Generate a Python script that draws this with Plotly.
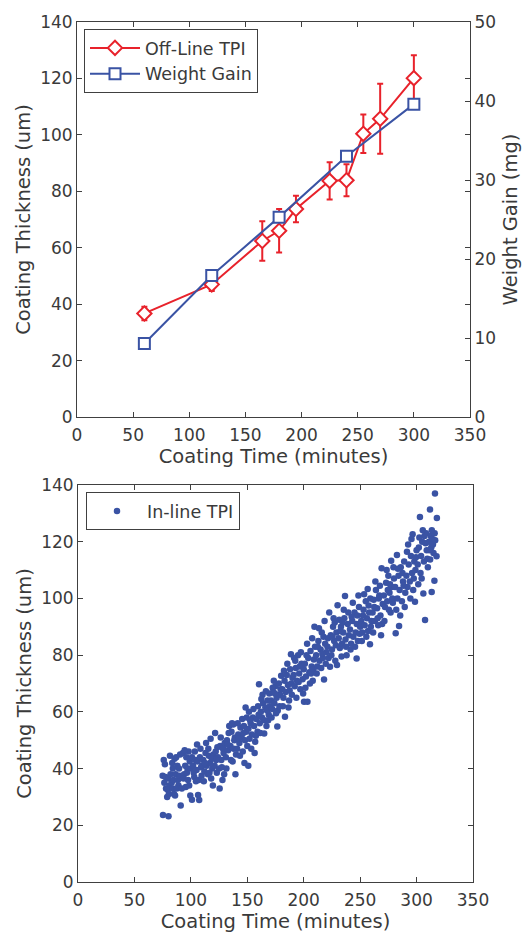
import plotly.graph_objects as go

# ---------------- Top chart data ----------------
offline_time = [60, 120, 165, 180, 195, 225, 240, 255, 270, 300]
offline_thick = [36.7, 47.0, 62.4, 66.0, 73.7, 83.7, 83.9, 100.4, 105.7, 120.1]
offline_err = [2.4, 2.3, 7.0, 7.7, 4.7, 6.6, 5.7, 6.8, 12.4, 8.1]

wg_time = [60, 120, 180, 240, 300]
wg_mg = [9.3, 17.9, 25.3, 33.0, 39.6]

# ---------------- Bottom chart data (In-line TPI) -------------
inline_pts = [
    (75.3,23.6),(80.2,23.2),(75,37.5),(76,43),(77,41.5),(76.5,35),(78,33),(79,30),(77.5,37),(80,36.5),(81,34),(79.5,32.5),(82,38),(81.5,44.5),(80.5,31),
    (83,35),(84,33),(85,31),(84.5,36),(86,30.5),(83.5,42),(85.5,43.5),(87,44),(88,41),(86.5,38),(89,34),(88.5,36),(90,37.5),(87.5,33),(89.5,40),(91,27),(90.5,45),(84,40),
    (92,33),(93,45.5),(94,38),(95,41),(96,44),(97,40),(93.5,36.5),(95.5,33.5),(98,46),(99,42.5),(96.5,38.5),(97.5,36),(100,40),(94.5,46.5),(98.5,34),(99.5,30.5),(101,29),
    (101,44),(102,41),(103,37),(104,43),(105,39.5),(106,42.5),(107,36),(108,44),(109,40.5),(102.5,38.5),(104.5,35.5),(106.4,30.7),(107.4,28.9),(108.5,47),(110,41),(103.5,46),(105.5,48.5),(109.5,37.5),
    (111,43),(112,39),(113,45.5),(114,41),(115,38),(116,44.5),(117,42),(118,36.5),(119,40),(120,45),(111.5,35.5),(113.5,49),(115.5,47),(117.5,50.5),(119.5,34),(116.5,38.5),(112.5,42),(118.5,43.5),
    (121,41),(122,46),(123,38.5),(124,44),(125,40),(126,48),(127,43),(128,36),(129,45.5),(130,49),(121.5,52.5),(123.5,47.5),(125.5,33),(127.5,40.5),(129.5,38),(122.5,43),(126.5,51),(128.5,47),
    (131,44),(132,50),(133,46.5),(134,55),(135,48),(136,53),(137,42.5),(138,47),(139,51),(140,45),(131.5,40),(133.5,52.5),(135.5,43),(137.5,55.5),(139.5,38),(132.5,48.5),(136.5,56),(138.5,50),
    (141,47),(142,52),(143,49),(144,54.5),(145,51),(146,46),(147,55),(148,50),(149,53),(150,48),(141.5,56),(143.5,44.5),(145.5,57.5),(147.5,42),(149.5,58),(142.5,50.5),(146.5,52.5),(148.5,61.5),(150.9,41),
    (151,54),(152,50.5),(153,56),(154,52),(155,58),(156,55),(157,49.5),(158,57.5),(159,53),(160,59),(151.5,60),(153.5,47),(155.5,61),(157.6,51.6),(159.5,62),(152.5,57),(156.5,45.5),(160.4,69.7),
    (161,56),(162,60),(163,58),(164,63),(165,57),(166,61.5),(167,55),(168,64),(169,59),(170,62),(161.5,52.5),(163.5,66),(165,52.4),(167.5,60.5),(169.5,66.5),(162.5,64.5),(166.5,67.3),(168.5,57),
    (171,64),(172,61),(173,67),(174,63),(175,69),(176,65),(177,60.5),(178,70),(179,66),(180,72.7),(171.5,58),(173.5,71),(175.5,59.5),(176.6,54.8),(178.5,62),(179.5,68),(172.5,68.5),(174.5,66.5),
    (181,68),(182,65),(183,71),(184,67),(185,73),(186,69.5),(187,64),(188,75),(189,70),(190,72),(181.5,62),(183.4,58.3),(185.5,77),(187.5,67.5),(188.7,80.3),(182.5,74.5),(186.5,61.5),(189.5,66),
    (191,73),(192,69),(193,75.5),(194,71),(195,80),(196,73.5),(197,68),(198,77),(199,71.5),(200,75),(191.5,79),(193.5,65),(195.5,70.5),(197.5,81),(199.5,66.5),(200.3,63.6),(192.5,78),(196.5,76),
    (201,77),(202,72.5),(203.3,63.6),(204,79),(205,74),(206,81.5),(207,76),(208,71),(209,78.5),(210,83),(201.5,68.5),(203,84),(205.5,70),(207.5,86),(209.5,90),(202.5,80),(206.5,73.5),(208.5,75),
    (211,80),(212,76),(213,85),(214,78),(215,82),(216,88),(217,79),(218,71.4),(219,84),(220,81),(211.5,73.5),(213.5,89.5),(215.5,75.5),(217.5,86.5),(219.5,77),(212.5,83),(216.5,80.5),(218.5,92),
    (221,83),(222,79),(222.6,95),(223.3,75.9),(224,87),(225,82),(226,90),(227,85),(228,78),(229,88),(230,97.6),(221.5,86),(224.5,80),(226.5,93),(228.5,83.5),(229.5,76.5),(227.5,91.5),(225.5,86.5),
    (231,86),(232,82.5),(233,90),(234,84),(235,88),(236,93),(236.6,100.9),(237,85.5),(238,80),(239,91),(240,87),(231.5,92.5),(233.5,79.5),(235.5,96),(237.5,83),(239.5,95),(232.5,88.5),(234.5,91.5),
    (241,89),(242,84),(243,92),(244,86.5),(245,95),(246,88),(246.9,78.8),(247,91),(248,85),(249,97),(250,90),(241.5,82),(243.5,98.5),(245.5,83),(247.5,94),(249.5,87.5),(242.5,93.5),(248.5,101),
    (251,92),(252,88),(253,96),(254,90.5),(255,99),(256,93),(256.7,103.3),(257,88.5),(258,95),(258.7,83.8),(259,100),(260,92),(251.5,85),(253.5,101.5),(255.5,86.5),(257.5,97.5),(259.5,90),(252.5,94),
    (261,95),(262,99.5),(263,92),(264,103),(265,96.5),(266,90.5),(267,101),(268,94),(269,110.6),(270,98),(261.5,88),(263.5,106),(265.5,93),(267.5,104.5),(269.5,91),(262.5,97),(266.5,100),(268.5,87),
    (271,101),(272,97),(273,105.5),(274,99),(275,108),(276,102),(277,95),(277.5,113.3),(278,104),(279,98.5),(280,107),(271.5,92),(273.5,110),(275.5,96),(276.5,105),(278.5,100),(279.5,111),(274.5,103),
    (281,104),(281.5,87.7),(282.6,115.3),(283,100),(284,108),(284.5,90.3),(285,103),(286,111),(287,99),(288,106),(289,113),(290,102),(282,96),(283.5,110.5),(285.5,94),(287.5,109),(289.5,97),(288.5,104.5),
    (291,108),(291.5,116.5),(292,104),(293,112),(294,106),(295,115),(296,109),(296.5,122.6),(297,103),(298,113),(298.6,98.8),(299,110),(300,117),(292.5,119),(294.5,100),(295.5,121),(297.5,107),(299.5,114.5),
    (301,112),(302,118),(303,128.7),(303.5,109),(304,115),(305,120),(306,101.7),(306.5,113),(307,122),(307.5,92.4),(308.4,123),(309,117),(310,111),(301.5,105),(302.5,121.5),(304.5,107),(305.5,124),(308,119.5),(309.5,114),
    (311,120),(311.9,131.4),(312,113.7),(312.5,122),(313,118),(313.4,102.3),(314,121),(315,116),(315.8,106.2),(316,123),(316.3,137),(317.7,114.9),(318,128.4),(314.5,119),(316.5,120.5),(311.5,117),(313.5,124),
]
inline_time = [p[0] for p in inline_pts]
inline_thick = [p[1] for p in inline_pts]

x_ticks = [0, 50, 100, 150, 200, 250, 300, 350]
thick_ticks = [0, 20, 40, 60, 80, 100, 120, 140]
wg_ticks = [0, 10, 20, 30, 40, 50]

RED = "#e8222b"
BLUE = "#3a53a4"
TXT = "#3a3a3a"
AX = "#404040"
FONT = "DejaVu Sans"

fig = go.Figure()

fig.add_trace(go.Scatter(
    x=offline_time, y=offline_thick, name="Off-Line TPI", mode="lines+markers",
    line=dict(color=RED, width=2),
    marker=dict(symbol="diamond", size=11, color="white", line=dict(color=RED, width=2)),
    error_y=dict(type="data", array=offline_err, visible=True, color=RED, thickness=2, width=3),
    xaxis="x", yaxis="y", legend="legend",
))
fig.add_trace(go.Scatter(
    x=wg_time, y=wg_mg, name="Weight Gain", mode="lines+markers",
    line=dict(color=BLUE, width=2),
    marker=dict(symbol="square", size=11, color="white", line=dict(color=BLUE, width=2)),
    xaxis="x", yaxis="y2", legend="legend",
))
fig.add_trace(go.Scatter(
    x=inline_time, y=inline_thick, name="In-line TPI", mode="markers",
    marker=dict(symbol="circle", size=6.5, color=BLUE),
    xaxis="x3", yaxis="y3", legend="legend2",
))

W, H = 528, 935
top_x = [77 / W, 470 / W]
top_y = [(H - 417) / H, (H - 22) / H]
bot_x = [78 / W, 473 / W]
bot_y = [(H - 882) / H, (H - 485) / H]

common_axis = dict(
    showgrid=False, zeroline=False, showline=True, linecolor=AX, linewidth=1,
    ticks="inside", ticklen=5, tickcolor=AX, tickwidth=1, automargin=False,
    tickfont=dict(family=FONT, size=17, color=TXT),
)
title_font = dict(family=FONT, size=19.5, color=TXT)

fig.update_layout(
    width=W, height=H, margin=dict(l=0, r=0, t=0, b=0),
    paper_bgcolor="white", plot_bgcolor="white",
    font=dict(family=FONT, color=TXT),
    xaxis=dict(domain=top_x, range=[0, 350], tickvals=x_ticks, mirror="ticks", anchor="y",
               ticklabelstandoff=3,
               title=dict(text="Coating Time (minutes)", font=title_font, standoff=3), **common_axis),
    yaxis=dict(domain=top_y, range=[0, 140], tickvals=thick_ticks, mirror="ticks", anchor="x",
               title=dict(text="Coating Thickness (um)", font=title_font, standoff=4), **common_axis),
    yaxis2=dict(overlaying="y", side="right", range=[0, 50], tickvals=wg_ticks, anchor="x",
                title=dict(text="Weight Gain (mg)", font=title_font, standoff=8), **common_axis),
    xaxis3=dict(domain=bot_x, range=[0, 350], tickvals=x_ticks, mirror="ticks", anchor="y3",
                ticklabelstandoff=3,
                title=dict(text="Coating Time (minutes)", font=title_font, standoff=2), **common_axis),
    yaxis3=dict(domain=bot_y, range=[0, 140], tickvals=thick_ticks, mirror="ticks", anchor="x3",
                title=dict(text="Coating Thickness (um)", font=title_font, standoff=4), **common_axis),
    legend=dict(x=84 / W, y=(H - 29) / H, xanchor="left", yanchor="top",
                bordercolor=AX, borderwidth=1, bgcolor="white", itemwidth=50,
                font=dict(family=FONT, size=17.5, color=TXT), tracegroupgap=0),
    legend2=dict(x=86 / W, y=(H - 492) / H, xanchor="left", yanchor="top",
                 bordercolor=AX, borderwidth=1, bgcolor="white", itemwidth=50,
                 font=dict(family=FONT, size=17.5, color=TXT)),
)

fig.write_html("out.html", config={"displayModeBar": False},
               post_script="document.body.style.margin='0';")
